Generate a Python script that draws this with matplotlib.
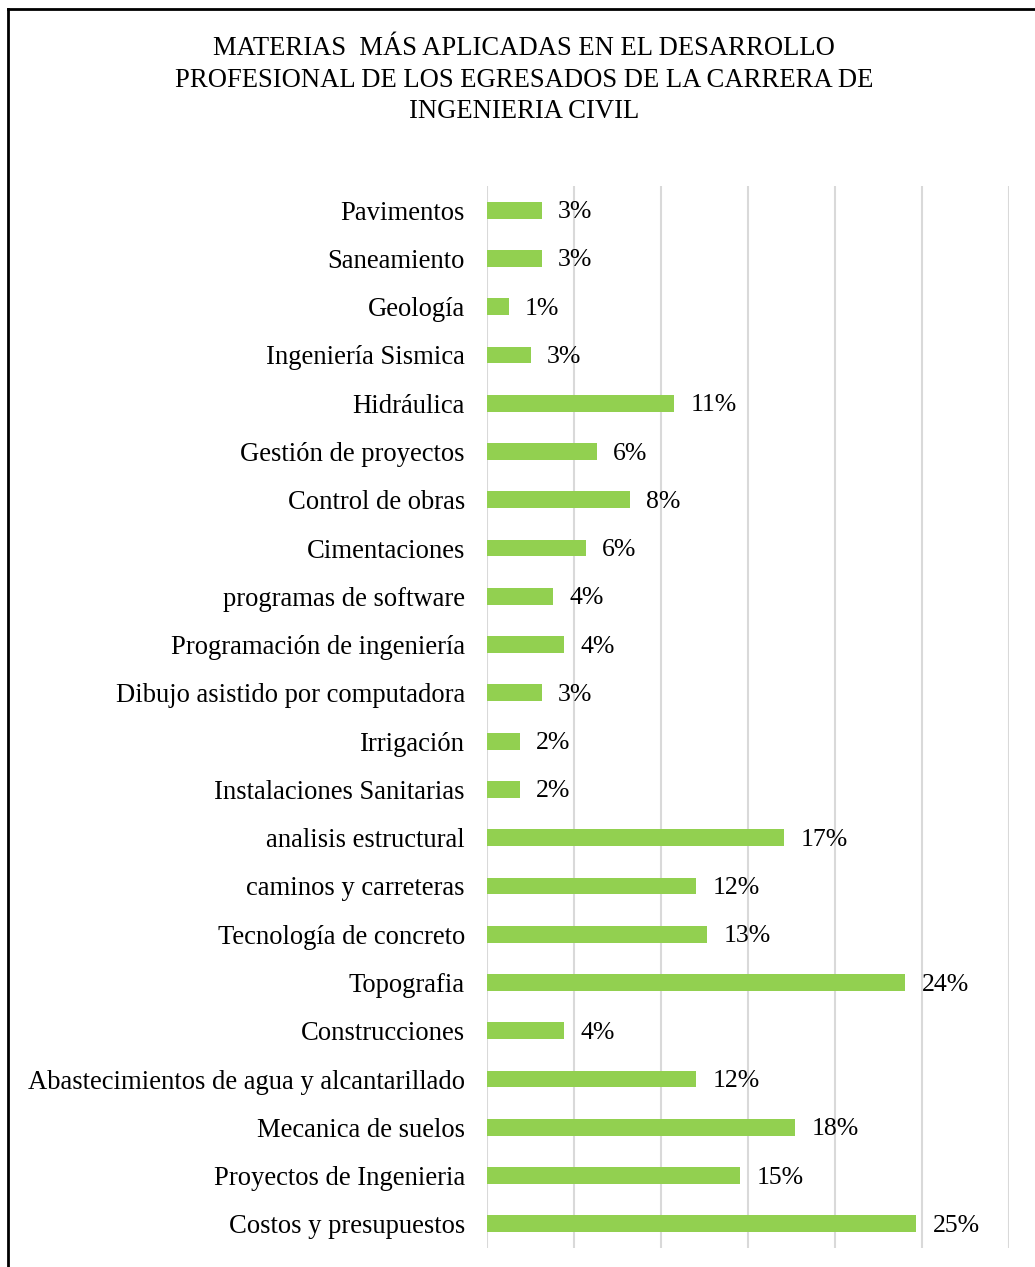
import matplotlib
matplotlib.use("Agg")
import matplotlib.pyplot as plt
from matplotlib.lines import Line2D
from matplotlib.ticker import MultipleLocator

title = "MATERIAS  MÁS APLICADAS EN EL DESARROLLO\nPROFESIONAL DE LOS EGRESADOS DE LA CARRERA DE\nINGENIERIA CIVIL"

# categories listed top to bottom as in the picture
categories = [
    "Pavimentos", "Saneamiento", "Geología", "Ingeniería Sismica", "Hidráulica",
    "Gestión de proyectos", "Control de obras", "Cimentaciones",
    "programas de software", "Programación de ingeniería",
    "Dibujo asistido por computadora", "Irrigación", "Instalaciones Sanitarias",
    "analisis estructural", "caminos y carreteras", "Tecnología de concreto",
    "Topografia", "Construcciones", "Abastecimientos de agua y alcantarillado",
    "Mecanica de suelos", "Proyectos de Ingenieria", "Costos y presupuestos",
]
values = [
    0.0316, 0.0316, 0.0127, 0.0253, 0.1076,
    0.0633, 0.0823, 0.0570,
    0.0380, 0.0443,
    0.0316, 0.0190, 0.0190,
    0.1709, 0.1203, 0.1266,
    0.2405, 0.0443, 0.1203,
    0.1772, 0.1456, 0.2468,
]

plt.rcParams['font.family'] = ['Liberation Serif', 'DejaVu Serif']

W, H = 1035, 1267
fig = plt.figure(figsize=(W / 100, H / 100), dpi=100)
ax = fig.add_axes([487 / W, 1 - 1248 / H, (1009 - 487) / W, (1248 - 186) / H])

n = len(categories)
ypos = list(range(n))[::-1]
ax.barh(ypos, values, height=0.35, color="#92D050", zorder=3)
for y, v in zip(ypos, values):
    ax.annotate(f"{v:.0%}", xy=(v, y), xytext=(11.5, -1.5), textcoords="offset points",
                ha="left", va="center", fontsize=18.5, color="black")

ax.set_xlim(0, 0.30)
ax.set_ylim(-0.5, n - 0.5)
ax.xaxis.set_major_locator(MultipleLocator(0.05))
ax.grid(axis="x", color="#D9D9D9", linewidth=1.5, zorder=0)
ax.set_yticks(ypos)
ax.set_yticklabels(categories, fontsize=19.2)
ax.tick_params(axis="y", length=0, pad=16)
ax.tick_params(axis="x", length=0, labelbottom=False)
for s in ax.spines.values():
    s.set_visible(False)

fig.text(524 / W, 1 - 36 / H, title, ha="center", va="top", fontsize=19.2,
         linespacing=1.35)

# outer frame (top and left edges)
fig.add_artist(Line2D([8 / W, 1.0], [1 - 9 / H, 1 - 9 / H], transform=fig.transFigure,
                      color="black", linewidth=2))
fig.add_artist(Line2D([8 / W, 8 / W], [0, 1 - 9 / H], transform=fig.transFigure,
                      color="black", linewidth=2))

fig.savefig("out.png", dpi=100, facecolor="white")
